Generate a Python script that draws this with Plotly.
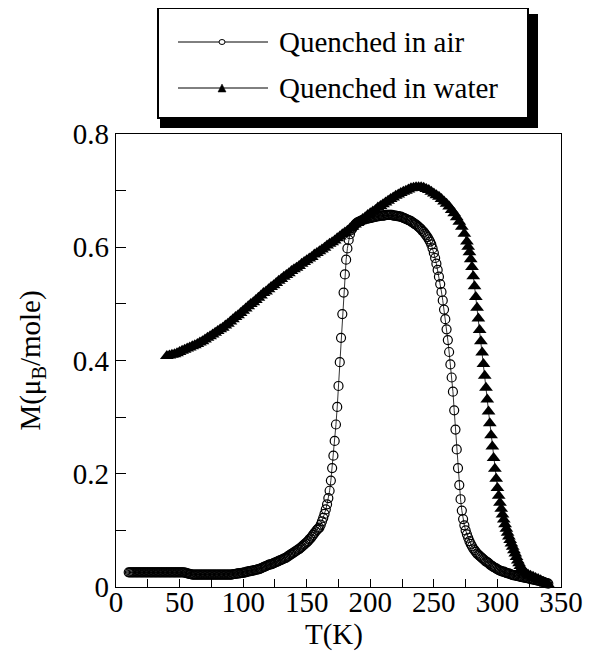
import plotly.graph_objects as go

# ---------------- data ----------------
# Quenched in air (open circles), one reading per kelvin from 10 K to 340 K
T_air = list(range(10, 341))
M_air = [
    # 10..53
    0.026, 0.026, 0.026, 0.026, 0.026, 0.026, 0.026, 0.026, 0.026, 0.026,
    0.026, 0.026, 0.026, 0.026, 0.026, 0.026, 0.026, 0.026, 0.026, 0.026,
    0.026, 0.026, 0.026, 0.026, 0.026, 0.026, 0.026, 0.026, 0.026, 0.026,
    0.026, 0.026, 0.026, 0.026, 0.026, 0.026, 0.026, 0.026, 0.026, 0.026,
    0.026, 0.026, 0.026, 0.026,
    # 54..59
    0.0255, 0.025, 0.024, 0.0235, 0.023, 0.0225,
    # 60..91
    0.022, 0.022, 0.022, 0.022, 0.022, 0.022, 0.022, 0.022, 0.022, 0.022,
    0.022, 0.022, 0.022, 0.022, 0.022, 0.022, 0.022, 0.022, 0.022, 0.022,
    0.022, 0.022, 0.022, 0.022, 0.022, 0.022, 0.022, 0.022, 0.022, 0.022,
    0.022, 0.022,
    # 92..159
    0.0225, 0.023, 0.023, 0.0235, 0.024, 0.024, 0.0245, 0.025, 0.025, 0.026,
    0.026, 0.027, 0.027, 0.028, 0.028, 0.029, 0.029, 0.030, 0.030, 0.031,
    0.031, 0.032, 0.033, 0.034, 0.035, 0.036, 0.037, 0.038, 0.039, 0.040,
    0.040, 0.041, 0.042, 0.043, 0.044, 0.045, 0.046, 0.047, 0.048, 0.049,
    0.050, 0.051, 0.052, 0.054, 0.055, 0.057, 0.058, 0.060, 0.061, 0.063,
    0.064, 0.066, 0.067, 0.069, 0.071, 0.073, 0.075, 0.077, 0.079, 0.081,
    0.084, 0.086, 0.089, 0.092, 0.095, 0.098, 0.101, 0.103,
    # 160..195
    0.105, 0.110, 0.116, 0.122, 0.129, 0.137, 0.146, 0.157, 0.170, 0.188,
    0.210, 0.232, 0.258, 0.287, 0.318, 0.355, 0.397, 0.440, 0.482, 0.520,
    0.552, 0.578, 0.598, 0.613, 0.623, 0.630, 0.634, 0.637, 0.640, 0.642,
    0.644, 0.645, 0.646, 0.647, 0.648, 0.649,
    # 196..245
    0.650, 0.650, 0.651, 0.651, 0.652, 0.652, 0.653, 0.653, 0.654, 0.654,
    0.655, 0.655, 0.656, 0.656, 0.656, 0.656, 0.657, 0.657, 0.657, 0.657,
    0.657, 0.657, 0.656, 0.656, 0.656, 0.655, 0.655, 0.654, 0.654, 0.653,
    0.652, 0.651, 0.650, 0.649, 0.648, 0.647, 0.646, 0.644, 0.643, 0.641,
    0.640, 0.638, 0.636, 0.634, 0.632, 0.629, 0.627, 0.624, 0.621, 0.618,
    # 246..299
    0.614, 0.610, 0.605, 0.598, 0.590, 0.581, 0.571, 0.560, 0.548, 0.535,
    0.521, 0.506, 0.490, 0.473, 0.455, 0.436, 0.415, 0.393, 0.370, 0.345,
    0.312, 0.278, 0.243, 0.210, 0.180, 0.155, 0.135, 0.120, 0.109, 0.100,
    0.093, 0.087, 0.081, 0.076, 0.072, 0.068, 0.065, 0.062, 0.059, 0.057,
    0.055, 0.053, 0.051, 0.049, 0.047, 0.045, 0.044, 0.042, 0.040, 0.038,
    0.037, 0.035, 0.034, 0.033,
    # 300..340
    0.031, 0.030, 0.029, 0.028, 0.027, 0.027, 0.026, 0.025, 0.024, 0.024,
    0.023, 0.022, 0.021, 0.021, 0.020, 0.020, 0.019, 0.019, 0.018, 0.018,
    0.017, 0.017, 0.016, 0.016, 0.015, 0.015, 0.014, 0.014, 0.013, 0.013,
    0.012, 0.012, 0.011, 0.011, 0.010, 0.010, 0.009, 0.008, 0.007, 0.007,
    0.006,
]

# Quenched in water (filled triangles)
T_water = list(range(40, 276, 2)) + list(range(276, 321)) + list(range(322, 342, 2))
M_water = [
    0.408, 0.409, 0.410, 0.411, 0.413, 0.415, 0.417, 0.419, 0.421, 0.423,
    0.425, 0.427, 0.429, 0.432, 0.434, 0.437, 0.440, 0.443, 0.446, 0.449,
    0.452, 0.455, 0.458, 0.462, 0.465, 0.469, 0.473, 0.477, 0.480, 0.484,
    0.488, 0.492, 0.496, 0.500, 0.503, 0.507, 0.511, 0.515, 0.519, 0.522,
    0.526, 0.530, 0.533, 0.537, 0.541, 0.544, 0.548, 0.551, 0.554, 0.558,
    0.561, 0.564, 0.567, 0.571, 0.574, 0.577, 0.580, 0.583, 0.587, 0.590,
    0.593, 0.596, 0.599, 0.603, 0.606, 0.609, 0.612, 0.616, 0.619, 0.623,
    0.626, 0.629, 0.633, 0.636, 0.640, 0.643, 0.646, 0.650, 0.653, 0.657,
    0.660, 0.663, 0.666, 0.670, 0.673, 0.676, 0.679, 0.682, 0.685, 0.688,
    0.691, 0.693, 0.696, 0.698, 0.700, 0.702, 0.704, 0.705, 0.706, 0.706,
    0.706, 0.705, 0.703, 0.701, 0.698, 0.695, 0.692, 0.689, 0.685, 0.681,
    0.677, 0.672, 0.666, 0.660, 0.653, 0.645, 0.636, 0.624,
    # 276..320
    0.610, 0.601, 0.591, 0.579, 0.565, 0.549, 0.531, 0.512, 0.493, 0.474,
    0.454, 0.434, 0.414, 0.394, 0.373, 0.352, 0.331, 0.310, 0.289, 0.268,
    0.248, 0.228, 0.209, 0.191, 0.175, 0.161, 0.149, 0.138, 0.128, 0.119,
    0.111, 0.103, 0.096, 0.089, 0.083, 0.077, 0.071, 0.065, 0.059, 0.053,
    0.047, 0.042, 0.037, 0.033, 0.029,
    # 322..340 step 2
    0.025, 0.022, 0.020, 0.018, 0.016, 0.014, 0.012, 0.009, 0.006, 0.004,
]

series_names = ["Quenched in air", "Quenched in water"]
x_tickvals = [0, 50, 100, 150, 200, 250, 300, 350]
y_tickvals = [0, 0.2, 0.4, 0.6, 0.8]
y_ticktext = ["0", "0.2", "0.4", "0.6", "0.8"]
x_title = "T(K)"
y_title = "M(μ<sub>B</sub>/mole)"

# ---------------- figure ----------------
FONT = "Liberation Serif"
OFF = 8                      # default page margin around the plot div
W, H = 595 - OFF, 670 - OFF
# plot area in page pixels
PL, PR, PT, PB = 116, 561, 134, 587
L, R, T, B = PL - OFF, PR - OFF, PT - OFF, PB - OFF


def px(x):   # page pixel -> paper x
    return (x - PL) / (PR - PL)


def py(y):   # page pixel -> paper y
    return (PB - y) / (PB - PT)


fig = go.Figure()
fig.add_trace(go.Scatter(
    x=T_air, y=M_air, mode="lines+markers", name=series_names[0],
    line=dict(color="black", width=0.8),
    marker=dict(symbol="circle-open", size=9, color="black", line=dict(width=1.2)),
    showlegend=False, cliponaxis=False,
))
fig.add_trace(go.Scatter(
    x=T_water, y=M_water, mode="lines+markers", name=series_names[1],
    line=dict(color="black", width=0.8),
    marker=dict(symbol="triangle-up", size=12, color="black", line=dict(width=0)),
    showlegend=False, cliponaxis=False,
))

axis_common = dict(
    showline=True, linecolor="black", linewidth=1.3, mirror=True,
    ticks="inside", tickcolor="black", tickwidth=1,
    showgrid=False, zeroline=False,
    tickfont=dict(family=FONT, size=29, color="black"),
)
fig.update_xaxes(
    range=[0, 350], tickvals=x_tickvals, ticklen=8, ticklabelstandoff=-11,
    minor=dict(dtick=25, tick0=0, ticks="inside", ticklen=8, tickcolor="black", tickwidth=1, showgrid=False),
    **axis_common,
)
fig.update_yaxes(
    range=[0, 0.8], tickvals=y_tickvals, ticktext=y_ticktext, ticklen=10,
    minor=dict(dtick=0.1, tick0=0, ticks="inside", ticklen=10, tickcolor="black", tickwidth=1, showgrid=False),
    title=dict(text=y_title, font=dict(family=FONT, size=29, color="black"), standoff=23),
    **axis_common,
)

# custom legend with drop shadow
shapes = [
    dict(type="rect", xref="paper", yref="paper", x0=px(160), x1=px(538), y0=py(14), y1=py(128),
         fillcolor="black", line=dict(width=0)),
    dict(type="rect", xref="paper", yref="paper", x0=px(158), x1=px(528), y0=py(8), y1=py(118),
         fillcolor="white", line=dict(color="black", width=2)),
    dict(type="line", xref="paper", yref="paper", x0=px(178), x1=px(268), y0=py(42), y1=py(42),
         line=dict(color="black", width=1)),
    dict(type="line", xref="paper", yref="paper", x0=px(178), x1=px(268), y0=py(88), y1=py(88),
         line=dict(color="black", width=1)),
    dict(type="circle", xref="paper", yref="paper", x0=px(219), x1=px(225), y0=py(39.5), y1=py(44.5),
         fillcolor="white", line=dict(color="black", width=1)),
    dict(type="path", xref="paper", yref="paper",
         path=f"M{px(218)},{py(92)} L{px(226)},{py(92)} L{px(222)},{py(84)} Z",
         fillcolor="black", line=dict(color="black", width=0.5)),
]
annotations = [
    dict(text=series_names[0], xref="paper", yref="paper", x=px(277), y=py(42),
         xanchor="left", yanchor="middle", showarrow=False,
         font=dict(family=FONT, size=29, color="black")),
    dict(text=series_names[1], xref="paper", yref="paper", x=px(277), y=py(88),
         xanchor="left", yanchor="middle", showarrow=False,
         font=dict(family=FONT, size=29, color="black")),
    dict(text=x_title, xref="paper", yref="paper", x=px(334), y=py(634),
         xanchor="center", yanchor="middle", showarrow=False,
         font=dict(family=FONT, size=29, color="black")),
]

fig.update_layout(
    width=W, height=H, autosize=False,
    margin=dict(l=L, r=W - R, t=T, b=H - B, pad=0),
    paper_bgcolor="white", plot_bgcolor="white",
    font=dict(family=FONT, size=29, color="black"),
    shapes=shapes, annotations=annotations, showlegend=False,
)

fig.write_html("out.html")
